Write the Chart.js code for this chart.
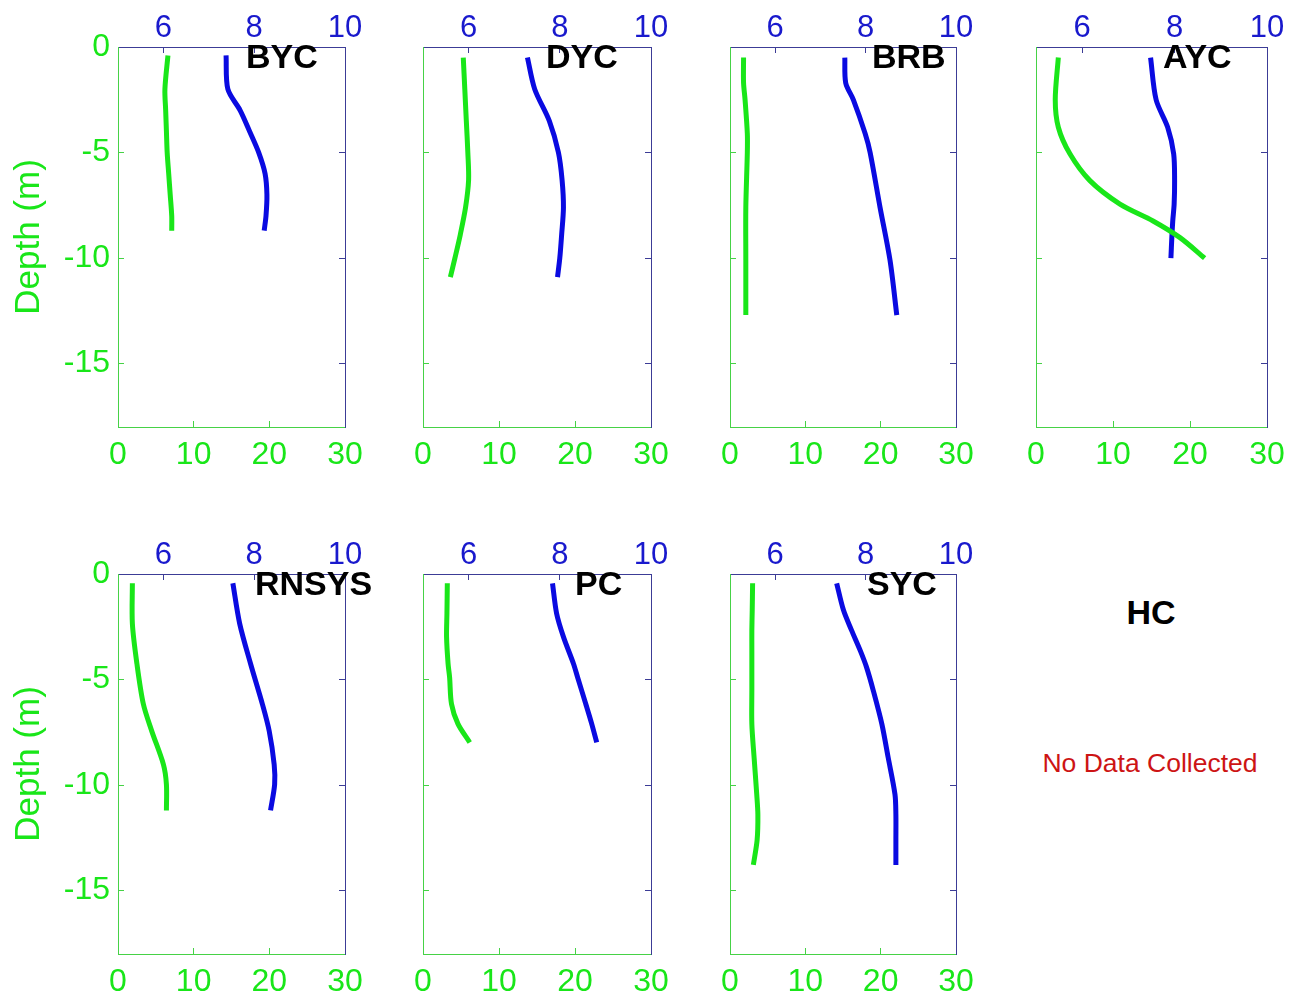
<!DOCTYPE html>
<html>
<head>
<meta charset="utf-8">
<script src="https://cdn.jsdelivr.net/npm/chart.js@4.4.1/dist/chart.umd.min.js"></script>
<style>
  body { margin: 0; background: #fff; }
  #wrap { position: relative; width: 1289px; height: 998px; overflow: hidden; }
  #wrap canvas { position: absolute; }
  .txt { position: absolute; font-family: Arial, "Liberation Sans", sans-serif; white-space: nowrap; transform: translate(-50%, -50%); }
</style>
</head>
<body>
<div id="wrap">
  <div class="txt" style="left:1151px; top:612px; font-size:34px; font-weight:bold; color:#000;">HC</div>
  <div class="txt" style="left:1150px; top:763px; font-size:26.5px; color:rgb(205,20,20);">No Data Collected</div>
</div>
<script>
// tick labels
const greenTicks = [0, 10, 20, 30];
const blueTicks = [6, 8, 10];
const depthTicks = [0, -5, -10, -15];

// station profiles: depth (m), green series (bottom axis), blue series (top axis)
const bycDepth = [-0.4, -2, -3, -4, -5, -6, -7, -8, -8.7];
const bycGreen = [6.6, 6.2, 6.3, 6.4, 6.5, 6.7, 6.9, 7.1, 7.1];
const bycBlue  = [7.38, 7.42, 7.69, 7.9, 8.1, 8.24, 8.28, 8.26, 8.22];

const dycDepth = [-0.5, -2, -3.5, -5, -6.3, -7.6, -8.9, -10, -10.9];
const dycGreen = [5.3, 5.5, 5.7, 5.9, 6.0, 5.6, 4.9, 4.2, 3.6];
const dycBlue  = [7.29, 7.45, 7.77, 7.97, 8.05, 8.08, 8.04, 8.0, 7.95];

const brbDepth = [-0.5, -1.7, -2.5, -4.1, -5, -7.6, -10.1, -12.7];
const brbGreen = [1.8, 1.8, 2.0, 2.3, 2.3, 2.1, 2.1, 2.1];
const brbBlue  = [7.54, 7.56, 7.73, 7.99, 8.1, 8.32, 8.54, 8.69];

const aycDepth = [-0.5, -2.5, -3.8, -5.06, -6.33, -7.44, -8.24, -9.03, -10];
const aycGreen = [2.9, 2.5, 2.9, 4.4, 7.0, 10.9, 15.2, 18.7, 21.9];
const aycBlue  = [7.48, 7.6, 7.85, 7.98, 8.0, 7.99, 7.96, 7.94, 7.92];

const rnsysDepth = [-0.44, -2.35, -4.25, -6.16, -7.43, -9.02, -9.97, -11.2];
const rnsysGreen = [1.9, 1.9, 2.5, 3.35, 4.45, 6.0, 6.4, 6.4];
const rnsysBlue  = [7.53, 7.68, 7.92, 8.18, 8.33, 8.44, 8.45, 8.36];

const pcDepth = [-0.44, -1.87, -2.98, -4.25, -4.89, -6.16, -7.1, -7.98];
const pcGreen = [3.2, 3.15, 3.1, 3.3, 3.5, 3.75, 4.6, 6.15];
const pcBlue  = [7.84, 7.93, 8.08, 8.3, 8.39, 8.57, 8.7, 8.81];

const sycDepth = [-0.44, -1.71, -2.67, -3.62, -4.41, -5.52, -7.11, -8.7, -10.44, -11.4, -12.6, -13.78];
const sycGreen = [3.0, 2.95, 2.9, 2.9, 2.9, 2.9, 2.9, 3.2, 3.55, 3.7, 3.6, 3.1];
const sycBlue  = [7.36, 7.51, 7.69, 7.88, 8.02, 8.17, 8.36, 8.5, 8.65, 8.67, 8.67, 8.67];

const stations = ['BYC', 'DYC', 'BRB', 'AYC', 'RNSYS', 'PC', 'SYC'];
const depths = [bycDepth, dycDepth, brbDepth, aycDepth, rnsysDepth, pcDepth, sycDepth];
const greens = [bycGreen, dycGreen, brbGreen, aycGreen, rnsysGreen, pcGreen, sycGreen];
const blues  = [bycBlue, dycBlue, brbBlue, aycBlue, rnsysBlue, pcBlue, sycBlue];

// layout of the plot boxes (px) and where the station name sits
const boxes = [
  { left: 118, top: 47,  w: 227, col: 0, titleX: 128 },
  { left: 423, top: 47,  w: 228, col: 1, titleX: 123 },
  { left: 730, top: 47,  w: 226, col: 2, titleX: 142 },
  { left: 1036, top: 47, w: 231, col: 3, titleX: 127 },
  { left: 118, top: 574, w: 227, col: 0, titleX: 137 },
  { left: 423, top: 574, w: 228, col: 1, titleX: 152 },
  { left: 730, top: 574, w: 226, col: 2, titleX: 137 }
];
const boxH = 380, padL = 110, padR = 45, padT = 47, padB = 50;

const GREEN = 'rgb(25,230,25)';
const GREEN_AX = 'rgb(70,210,70)';
const BLUE = 'rgb(10,10,225)';
const BLUE_TXT = 'rgb(25,25,205)';
const NAVY = 'rgb(60,60,150)';
const FONT = 'Arial, "Liberation Sans", sans-serif';

Chart.defaults.font.family = FONT;

const setTicks = arr => scale => { scale.ticks = arr.map(v => ({ value: v })); };

const stationTitle = {
  id: 'stationTitle',
  afterDraw(chart, args, opts) {
    const { ctx, chartArea } = chart;
    ctx.save();
    ctx.font = 'bold 34px ' + FONT;
    ctx.fillStyle = '#000';
    ctx.textAlign = 'left';
    ctx.textBaseline = 'middle';
    ctx.fillText(opts.text, chartArea.left + opts.x, chartArea.top + 12);
    ctx.restore();
  }
};

const wrap = document.getElementById('wrap');

stations.forEach((name, i) => {
  const b = boxes[i];
  const canvas = document.createElement('canvas');
  canvas.width = padL + b.w + padR;
  canvas.height = padT + boxH + padB;
  canvas.style.left = (b.left - padL) + 'px';
  canvas.style.top = (b.top - padT) + 'px';
  wrap.appendChild(canvas);

  const first = b.col === 0;

  new Chart(canvas.getContext('2d'), {
    type: 'scatter',
    data: {
      datasets: [
        {
          label: name + ' green',
          data: depths[i].map((d, k) => ({ x: greens[i][k], y: d })),
          xAxisID: 'x',
          borderColor: GREEN,
          borderWidth: 5,
          showLine: true,
          pointRadius: 0,
          tension: 0.3,
          borderCapStyle: 'butt'
        },
        {
          label: name + ' blue',
          data: depths[i].map((d, k) => ({ x: blues[i][k], y: d })),
          xAxisID: 'x2',
          borderColor: BLUE,
          borderWidth: 5,
          showLine: true,
          pointRadius: 0,
          tension: 0.3,
          borderCapStyle: 'butt'
        }
      ]
    },
    options: {
      responsive: false,
      animation: false,
      devicePixelRatio: 1,
      layout: { padding: { left: 0, right: padR, top: 0, bottom: 0 } },
      plugins: {
        legend: { display: false },
        tooltip: { enabled: false },
        stationTitle: { text: name, x: b.titleX }
      },
      scales: {
        x: {
          type: 'linear',
          position: 'bottom',
          min: 0,
          max: 30,
          afterBuildTicks: setTicks(greenTicks),
          afterFit: s => { s.height = padB; },
          ticks: { color: GREEN, font: { size: 32 }, padding: 15, maxRotation: 0, autoSkip: false },
          grid: { drawOnChartArea: false, drawTicks: true, tickLength: -6, color: GREEN_AX },
          border: { color: GREEN_AX, width: 1 }
        },
        x2: {
          type: 'linear',
          position: 'top',
          min: 5,
          max: 10,
          afterBuildTicks: setTicks(blueTicks),
          afterFit: s => { s.height = padT; },
          ticks: { color: BLUE_TXT, font: { size: 31 }, padding: 5.5, maxRotation: 0, autoSkip: false },
          grid: { drawOnChartArea: false, drawTicks: true, tickLength: -6, color: NAVY },
          border: { color: NAVY, width: 1 }
        },
        y: {
          type: 'linear',
          position: 'left',
          min: -18,
          max: 0,
          afterBuildTicks: setTicks(depthTicks),
          afterFit: s => { s.width = padL; },
          ticks: { display: first, color: GREEN, font: { size: 32 }, padding: 14, autoSkip: false },
          grid: { drawOnChartArea: false, drawTicks: true, tickLength: -6, color: GREEN_AX },
          border: { color: GREEN_AX, width: 1 },
          title: { display: first, text: 'Depth (m)', color: GREEN, font: { size: 35 }, padding: { top: 0, bottom: 0 } }
        },
        y2: {
          type: 'linear',
          position: 'right',
          min: -18,
          max: 0,
          afterBuildTicks: setTicks(depthTicks),
          afterFit: s => { s.width = 0; },
          ticks: { display: false },
          grid: { drawOnChartArea: false, drawTicks: true, tickLength: -6, color: NAVY },
          border: { color: NAVY, width: 1 }
        }
      }
    },
    plugins: [stationTitle]
  });
});
</script>
</body>
</html>
